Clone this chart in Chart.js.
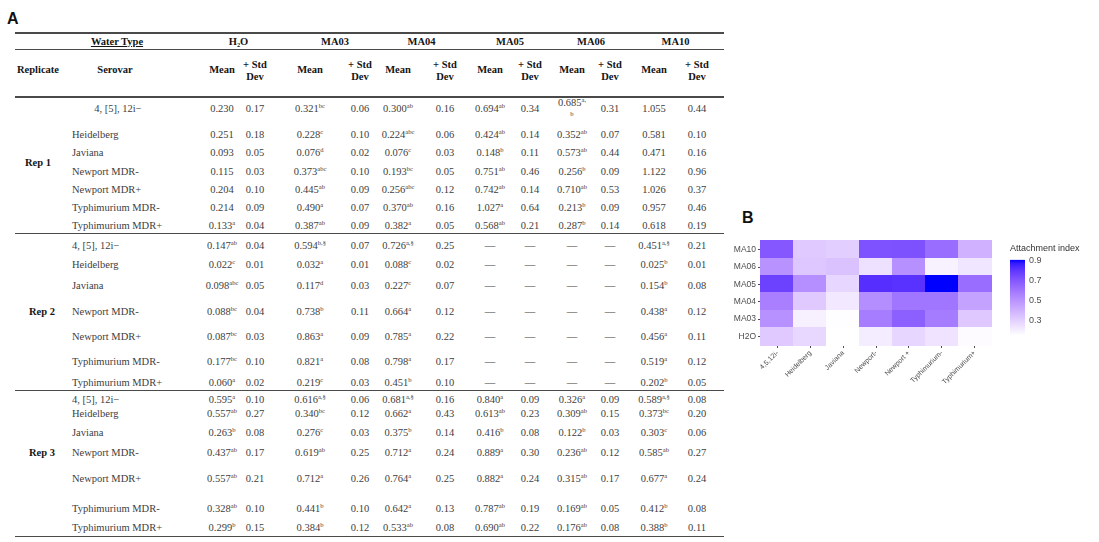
<!DOCTYPE html>
<html>
<head>
<meta charset="utf-8">
<script src="https://cdn.jsdelivr.net/npm/chart.js@4.4.1/dist/chart.umd.min.js"></script>
<style>
  html, body { margin: 0; padding: 0; background: #fff; }
  #page { position: relative; width: 1099px; height: 542px; overflow: hidden;
          font-family: "Liberation Serif", "Times New Roman", serif; color: #404040; }
  .t { position: absolute; white-space: nowrap; font-size: 10.5px; line-height: 12px;
       transform: translate(-50%, -50%); text-align: center; }
  .l { transform: translate(0, -50%); text-align: left; }
  .b { font-weight: bold; color: #151515; }
  .u { text-decoration: underline; }
  sup { font-size: 6.5px; line-height: 0; vertical-align: 0; position: relative; top: -4px; }
  .rule { position: absolute; background: #4a4a4a; }
  .panel { position: absolute; font-family: "Liberation Sans", Arial, sans-serif; font-weight: bold;
           font-size: 16px; line-height: 16px; color: #111; }
  canvas { position: absolute; }
</style>
</head>
<body>
<div id="page">
  <div class="panel" style="left:7px; top:11px;">A</div>
  <div class="panel" style="left:742px; top:210px;">B</div>
  <canvas id="heat" width="290" height="160" style="left:712px; top:234px; width:290px; height:160px;"></canvas>
  <canvas id="key" width="94" height="105" style="left:1005px; top:240px; width:94px; height:105px;"></canvas>
</div>
<script>
// ---------- Table A: attachment index by replicate, serovar and water type ----------
const waterTypes = ['H₂O', 'MA03', 'MA04', 'MA05', 'MA06', 'MA10'];
const replicates = ['Rep 1', 'Rep 2', 'Rep 3'];
const serovars = ['4, [5], 12i−', 'Heidelberg', 'Javiana', 'Newport MDR-', 'Newport MDR+',
                  'Typhimurium  MDR-', 'Typhimurium  MDR+'];

const rep1Mean = [
  ['0.230', '0.321', '0.300', '0.694', '0.685', '1.055'],
  ['0.251', '0.228', '0.224', '0.424', '0.352', '0.581'],
  ['0.093', '0.076', '0.076', '0.148', '0.573', '0.471'],
  ['0.115', '0.373', '0.193', '0.751', '0.256', '1.122'],
  ['0.204', '0.445', '0.256', '0.742', '0.710', '1.026'],
  ['0.214', '0.490', '0.370', '1.027', '0.213', '0.957'],
  ['0.133', '0.387', '0.382', '0.568', '0.287', '0.618']
];
const rep1Group = [
  ['', 'bc', 'ab', 'ab', 'a,|b', ''],
  ['', 'c', 'abc', 'ab', 'ab', ''],
  ['', 'd', 'c', 'b', 'ab', ''],
  ['', 'abc', 'bc', 'ab', 'b', ''],
  ['', 'ab', 'abc', 'ab', 'ab', ''],
  ['', 'a', 'ab', 'a', 'b', ''],
  ['a', 'ab', 'a', 'ab', 'b', '']
];
const rep1Sd = [
  ['0.17', '0.06', '0.16', '0.34', '0.31', '0.44'],
  ['0.18', '0.10', '0.06', '0.14', '0.07', '0.10'],
  ['0.05', '0.02', '0.03', '0.11', '0.44', '0.16'],
  ['0.03', '0.10', '0.05', '0.46', '0.09', '0.96'],
  ['0.10', '0.09', '0.12', '0.14', '0.53', '0.37'],
  ['0.09', '0.07', '0.16', '0.64', '0.09', '0.46'],
  ['0.04', '0.09', '0.05', '0.21', '0.14', '0.19']
];

const rep2Mean = [
  ['0.147', '0.594', '0.726', null, null, '0.451'],
  ['0.022', '0.032', '0.088', null, null, '0.025'],
  ['0.098', '0.117', '0.227', null, null, '0.154'],
  ['0.088', '0.738', '0.664', null, null, '0.438'],
  ['0.087', '0.863', '0.785', null, null, '0.456'],
  ['0.177', '0.821', '0.798', null, null, '0.519'],
  ['0.060', '0.219', '0.451', null, null, '0.202']
];
const rep2Group = [
  ['ab', 'b,§', 'a,§', '', '', 'a,§'],
  ['c', 'a', 'c', '', '', 'b'],
  ['abc', 'd', 'c', '', '', 'b'],
  ['bc', 'b', 'a', '', '', 'a'],
  ['bc', 'a', 'a', '', '', 'a'],
  ['bc', 'a', 'a', '', '', 'a'],
  ['a', 'c', 'b', '', '', 'b']
];
const rep2Sd = [
  ['0.04', '0.07', '0.25', null, null, '0.21'],
  ['0.01', '0.01', '0.02', null, null, '0.01'],
  ['0.05', '0.03', '0.07', null, null, '0.08'],
  ['0.04', '0.11', '0.12', null, null, '0.12'],
  ['0.03', '0.09', '0.22', null, null, '0.11'],
  ['0.10', '0.08', '0.17', null, null, '0.12'],
  ['0.02', '0.03', '0.10', null, null, '0.05']
];

const rep3Mean = [
  ['0.595', '0.616', '0.681', '0.840', '0.326', '0.589'],
  ['0.557', '0.340', '0.662', '0.613', '0.309', '0.373'],
  ['0.263', '0.276', '0.375', '0.416', '0.122', '0.303'],
  ['0.437', '0.619', '0.712', '0.889', '0.236', '0.585'],
  ['0.557', '0.712', '0.764', '0.882', '0.315', '0.677'],
  ['0.328', '0.441', '0.642', '0.787', '0.169', '0.412'],
  ['0.299', '0.384', '0.533', '0.690', '0.176', '0.388']
];
const rep3Group = [
  ['a', 'a,§', 'a,§', 'a', 'a', 'a,§'],
  ['ab', 'bc', 'a', 'ab', 'ab', 'bc'],
  ['b', 'c', 'b', 'b', 'b', 'c'],
  ['ab', 'ab', 'a', 'a', 'ab', 'ab'],
  ['ab', 'a', 'a', 'a', 'ab', 'a'],
  ['ab', 'b', 'a', 'ab', 'ab', 'b'],
  ['b', 'b', 'ab', 'ab', 'ab', 'b']
];
const rep3Sd = [
  ['0.10', '0.06', '0.16', '0.09', '0.09', '0.08'],
  ['0.27', '0.12', '0.43', '0.23', '0.15', '0.20'],
  ['0.08', '0.03', '0.14', '0.08', '0.03', '0.06'],
  ['0.17', '0.25', '0.24', '0.30', '0.12', '0.27'],
  ['0.21', '0.26', '0.25', '0.24', '0.17', '0.24'],
  ['0.10', '0.10', '0.13', '0.19', '0.05', '0.08'],
  ['0.15', '0.12', '0.08', '0.22', '0.08', '0.11']
];

// ---------- Panel B: attachment index averaged over replicates ----------
const heatSerovars = ['4,5,12i-', 'Heidelberg', 'Javiana', 'Newport-', 'Newport +', 'Typhimurium-', 'Typhimurium+'];
const heatWater = ['MA10', 'MA06', 'MA05', 'MA04', 'MA03', 'H2O'];
const heatMA10 = [0.698, 0.326, 0.309, 0.715, 0.720, 0.629, 0.403];
const heatMA06 = [0.506, 0.331, 0.348, 0.246, 0.513, 0.191, 0.232];
const heatMA05 = [0.767, 0.519, 0.282, 0.820, 0.812, 0.907, 0.629];
const heatMA04 = [0.569, 0.325, 0.226, 0.523, 0.602, 0.603, 0.455];
const heatMA03 = [0.510, 0.200, 0.156, 0.577, 0.673, 0.584, 0.330];
const heatH2O  = [0.324, 0.277, 0.151, 0.213, 0.283, 0.240, 0.164];
const keyTicks = [0.3, 0.5, 0.7, 0.9];

// ---------- table layout ----------
const page = document.getElementById('page');
const tableLeft = 15, tableRight = 724;
const meanX = [222, 310, 398, 490, 572, 654];
const sdX   = [255, 360, 445, 530, 610, 697];
const rowY = [
  [109, 135, 153, 172, 190, 208, 226],
  [246, 265, 286, 312, 337, 362, 383],
  [400, 414, 433, 453, 479, 509, 528]
];
const repY = [163, 312, 453];
const repX = [38, 42, 42];
const serovarX = 72;

function put(html, x, y, cls) {
  const d = document.createElement('div');
  d.className = 't ' + (cls || '');
  d.style.left = x + 'px';
  d.style.top = y + 'px';
  d.innerHTML = html;
  page.appendChild(d);
  return d;
}
function rule(y, h) {
  const d = document.createElement('div');
  d.className = 'rule';
  d.style.left = tableLeft + 'px';
  d.style.width = (tableRight - tableLeft) + 'px';
  d.style.top = y + 'px';
  d.style.height = h + 'px';
  page.appendChild(d);
}

// header
rule(32, 1.5);
put('Water Type', 117, 42, 'b u');
waterTypes.forEach((w, i) => put(w, (meanX[i] + sdX[i]) / 2, 42, 'b'));
rule(49, 1);
put('Replicate', 17, 70, 'b l');
put('Serovar', 115, 70, 'b');
waterTypes.forEach((w, i) => {
  put('Mean', meanX[i], 70, 'b');
  put('+ Std<br>Dev', sdX[i], 71, 'b');
});
rule(96, 1.5);

const means = [rep1Mean, rep2Mean, rep3Mean];
const groups = [rep1Group, rep2Group, rep3Group];
const sds = [rep1Sd, rep2Sd, rep3Sd];

replicates.forEach((rep, r) => {
  put(rep, repX[r], repY[r], 'b');
  serovars.forEach((s, k) => {
    const y = rowY[r][k];
    if (r === 0 && k === 0) put(s, 118, y);
    else put(s, serovarX, y, 'l');
    waterTypes.forEach((w, c) => {
      const m = means[r][k][c];
      const g = groups[r][k][c];
      let html;
      if (m === null) html = '—';
      else if (g.includes('|')) {
        const [g1, g2] = g.split('|');
        html = m + '<sup>' + g1 + '</sup><br><sup style="top:-2px">' + g2 + '</sup>';
      } else html = m + (g ? '<sup>' + g + '</sup>' : '');
      put(html, meanX[c], y);
      const sd = sds[r][k][c];
      put(sd === null ? '—' : sd, sdX[c], y);
    });
  });
});
rule(233, 1.2);
rule(390, 1.2);
rule(536, 1.2);

// ---------- colour scale: white → blue interpolated in CIELAB ----------
function toLin(c) { c /= 255; return c <= 0.04045 ? c / 12.92 : Math.pow((c + 0.055) / 1.055, 2.4); }
function toSrgb(c) { c = Math.max(0, Math.min(1, c));
  return Math.round(255 * (c <= 0.0031308 ? 12.92 * c : 1.055 * Math.pow(c, 1 / 2.4) - 0.055)); }
function rgbToLab(rgb) {
  const R = toLin(rgb[0]), G = toLin(rgb[1]), B = toLin(rgb[2]);
  const X = (0.4124 * R + 0.3576 * G + 0.1805 * B) / 0.95047;
  const Y = 0.2126 * R + 0.7152 * G + 0.0722 * B;
  const Z = (0.0193 * R + 0.1192 * G + 0.9505 * B) / 1.08883;
  const f = t => t > 0.008856 ? Math.cbrt(t) : 7.787 * t + 16 / 116;
  return [116 * f(Y) - 16, 500 * (f(X) - f(Y)), 200 * (f(Y) - f(Z))];
}
function labToRgb(lab) {
  const fy = (lab[0] + 16) / 116, fx = fy + lab[1] / 500, fz = fy - lab[2] / 200;
  const inv = t => t * t * t > 0.008856 ? t * t * t : (t - 16 / 116) / 7.787;
  const X = 0.95047 * inv(fx), Y = inv(fy), Z = 1.08883 * inv(fz);
  const R = 3.2406 * X - 1.5372 * Y - 0.4986 * Z;
  const G = -0.9689 * X + 1.8758 * Y + 0.0415 * Z;
  const B = 0.0557 * X - 0.2040 * Y + 1.0570 * Z;
  return 'rgb(' + toSrgb(R) + ',' + toSrgb(G) + ',' + toSrgb(B) + ')';
}
const labLow = rgbToLab([255, 255, 255]);
const labHigh = rgbToLab([0, 0, 255]);
const heatRows = [heatMA10, heatMA06, heatMA05, heatMA04, heatMA03, heatH2O];
const allHeat = heatRows.flat();
const vMin = Math.min(...allHeat), vMax = Math.max(...allHeat);
function colorFor(v) {
  const t = Math.max(0, Math.min(1, (v - vMin) / (vMax - vMin)));
  return labToRgb([0, 1, 2].map(i => labLow[i] + t * (labHigh[i] - labLow[i])));
}

// ---------- heatmap ----------
const heatPoints = [];
heatRows.forEach((row, i) => row.forEach((v, j) => heatPoints.push({ x: heatSerovars[j], y: heatWater[i], v })));

const tileCache = {};
function tile(ctx) {
  const chart = ctx.chart, p = ctx.raw;
  if (!chart.chartArea || !p) return 'rect';
  const xs = chart.scales.x, ys = chart.scales.y;
  const w = Math.ceil(Math.abs(xs.getPixelForValue(1) - xs.getPixelForValue(0))) + 1;
  const h = Math.ceil(Math.abs(ys.getPixelForValue(1) - ys.getPixelForValue(0))) + 1;
  const col = colorFor(p.v);
  const key = col + w + 'x' + h;
  if (!tileCache[key]) {
    const c = document.createElement('canvas');
    c.width = w; c.height = h;
    const g = c.getContext('2d');
    g.fillStyle = col; g.fillRect(0, 0, w, h);
    tileCache[key] = c;
  }
  return tileCache[key];
}

const axisGrey = '#4d4d4d';
new Chart(document.getElementById('heat'), {
  type: 'scatter',
  data: { datasets: [{ data: heatPoints, pointStyle: tile, pointRadius: 1, pointHoverRadius: 1, borderWidth: 0 }] },
  options: {
    responsive: false, animation: false, events: [],
    layout: { padding: { top: 7, right: 11, left: 0, bottom: 0 } },
    plugins: { legend: { display: false }, tooltip: { enabled: false } },
    scales: {
      x: {
        type: 'category', labels: heatSerovars, offset: true,
        afterFit: s => { s.height = 49; },
        grid: { drawOnChartArea: false, drawTicks: true, tickLength: 3, color: axisGrey, offset: false },
        border: { display: true, color: '#333', width: 1 },
        ticks: { minRotation: 45, maxRotation: 45, autoSkip: false, padding: 1, color: axisGrey,
                 font: { family: 'Liberation Sans, Arial, sans-serif', size: 7 } }
      },
      y: {
        type: 'category', labels: heatWater, offset: true,
        afterFit: s => { s.width = 49; },
        grid: { drawOnChartArea: false, drawTicks: true, tickLength: 3, color: axisGrey, offset: false },
        border: { display: true, color: '#333', width: 1 },
        ticks: { padding: 2, color: axisGrey, autoSkip: false,
                 font: { family: 'Liberation Sans, Arial, sans-serif', size: 8.5 } }
      }
    }
  }
});

// ---------- colour key ----------
new Chart(document.getElementById('key'), {
  type: 'bar',
  data: { labels: [''], datasets: [{
    data: [[vMin, vMax]], barPercentage: 1, categoryPercentage: 1, borderWidth: 0, borderSkipped: false,
    backgroundColor: ctx => {
      const chart = ctx.chart, ys = chart.scales.y;
      if (!chart.chartArea || !ys) return colorFor(vMax);
      const g = chart.ctx.createLinearGradient(0, ys.getPixelForValue(vMin), 0, ys.getPixelForValue(vMax));
      for (let i = 0; i <= 20; i++) g.addColorStop(i / 20, colorFor(vMin + (vMax - vMin) * i / 20));
      return g;
    }
  }] },
  options: {
    responsive: false, animation: false, events: [],
    layout: { padding: { left: 5, top: 0, right: 0, bottom: 7 } },
    plugins: {
      legend: { display: false }, tooltip: { enabled: false },
      title: { display: true, text: 'Attachment index', align: 'start', color: '#333',
               font: { family: 'Liberation Sans, Arial, sans-serif', size: 9, weight: 'normal' },
               padding: { top: 3, bottom: 6 } }
    },
    scales: {
      x: { display: false },
      y: {
        position: 'right', min: vMin, max: vMax,
        afterFit: s => { s.width = 74; },
        afterBuildTicks: s => { s.ticks = keyTicks.map(v => ({ value: v })); },
        grid: { display: false, drawTicks: false },
        border: { display: false },
        ticks: { padding: 4, color: axisGrey, callback: v => v.toFixed(1),
                 font: { family: 'Liberation Sans, Arial, sans-serif', size: 9 } }
      }
    }
  }
});
</script>
</body>
</html>
